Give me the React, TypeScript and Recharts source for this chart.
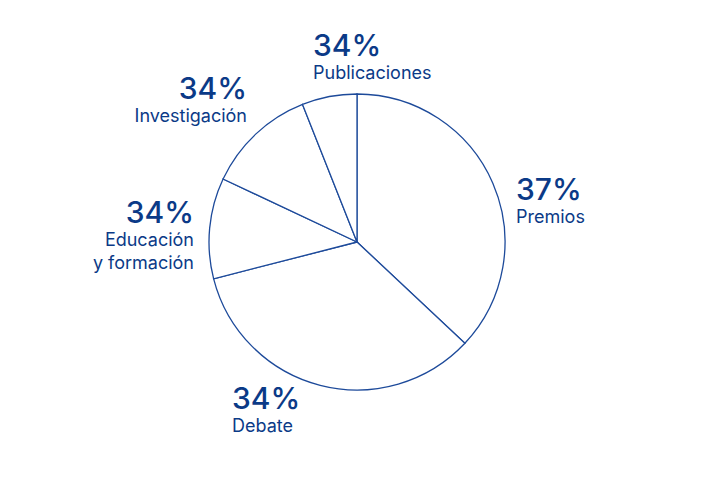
import { Pie, PieChart } from 'recharts'

// Share of activity by area (the printed percentages are kept as in the original)
const areas = ['Premios', 'Debate', 'Educación y formación', 'Investigación', 'Publicaciones']
const shares = [37, 34, 11, 12, 6]
const printed = ['37%', '34%', '34%', '34%', '34%']

const INK = '#0b3a87'
const LINE = '#1d4a9a'

const rows = areas.map((name, i) => ({ name, value: shares[i], printed: printed[i] }))

// where each callout sits, relative to the pie centre
const placement: Record<string, { dx: number; dy: number; anchor: 'start' | 'end' }> = {
  Premios: { dx: 159, dy: -42, anchor: 'start' },
  Debate: { dx: -125, dy: 167, anchor: 'start' },
  'Educación y formación': { dx: -163, dy: -19, anchor: 'end' },
  Investigación: { dx: -110, dy: -143, anchor: 'end' },
  Publicaciones: { dx: -44, dy: -186, anchor: 'start' },
}

function Callout(props: any) {
  const { cx, cy, payload } = props
  const p = placement[payload.name]
  if (!p) return null
  const x = cx + p.dx
  const y = cy + p.dy
  const lines = payload.name === 'Educación y formación' ? ['Educación', 'y formación'] : [payload.name]
  return (
    <g>
      <text x={x} y={y} textAnchor={p.anchor} fill={INK} fontSize={30} fontFamily="Inter" fontWeight={500}>
        {payload.printed}
      </text>
      {lines.map((l, i) => (
        <text key={l} x={x} y={y + 23 + i * 23} textAnchor={p.anchor} fill={INK} fontSize={18} fontFamily="Inter">
          {l}
        </text>
      ))}
    </g>
  )
}

export default function App() {
  return (
    <div style={{ position: 'absolute', left: 0, top: 0, width: 714, height: 485, background: '#fff' }}>
      <PieChart width={714} height={485} margin={{ top: 0, right: 0, bottom: 0, left: 0 }}>
        <Pie
          data={rows}
          dataKey="value"
          nameKey="name"
          cx={357}
          cy={242}
          outerRadius={148}
          startAngle={90}
          endAngle={-270}
          fill="#fff"
          stroke={LINE}
          strokeWidth={1.3}
          label={Callout}
          labelLine={false}
          isAnimationActive={false}
        />
      </PieChart>
    </div>
  )
}
